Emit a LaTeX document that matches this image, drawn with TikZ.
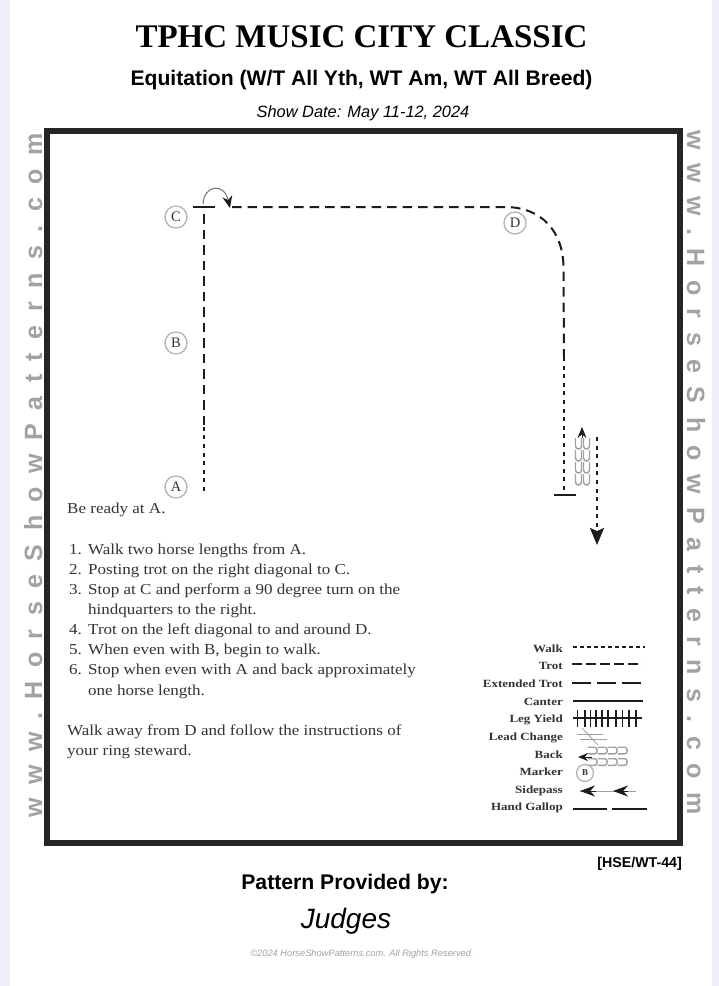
\documentclass[tikz,border=0pt]{standalone}
\usepackage{fontspec}
\setmainfont{Liberation Serif}
\setsansfont{Liberation Sans}
\newfontfamily\sidefont[LetterSpace=54]{Liberation Sans}
\newfontfamily\bodyfont[FakeStretch=1.12]{Liberation Serif}
\newfontfamily\keyfont[FakeStretch=1.18]{Liberation Serif}
\usepackage{xcolor}
\usetikzlibrary{arrows.meta,calc,positioning}
\definecolor{HSInk}{HTML}{1C1C1C}
\definecolor{HSText}{HTML}{333333}
\definecolor{HSFrame}{HTML}{252525}
\definecolor{HSSide}{HTML}{A2A2A2}
\definecolor{HSShoe}{HTML}{A0A0A0}
\definecolor{HSRing}{HTML}{B4B4B4}
\definecolor{HSEdge}{HTML}{EFEEF6}
\tikzset{
  marker/.style={circle,draw=HSRing,line width=1.3pt,fill=white,minimum size=22pt,inner sep=0pt,
    text=HSText,font=\fontsize{14.5}{14.5}\selectfont},
  bodytext/.style={anchor=base west,inner sep=0pt,text=HSText,font=\fontsize{15.2}{15.2}\bodyfont},
  legendlabel/.style={anchor=base east,inner sep=0pt,text=HSText,font=\fontsize{11}{11}\keyfont\bfseries},
  sidetext/.style={inner sep=0pt,anchor=base west,text=HSSide,font=\fontsize{25}{25}\sidefont\bfseries},
  walkline/.style={HSInk,line width=2.3pt,dash pattern=on 4pt off 4.6pt},
  trotline/.style={HSInk,line width=2pt,dash pattern=on 9.5pt off 6pt},
  stopline/.style={HSInk,line width=1.6pt},
  keyline/.style={HSInk,line width=1.4pt},
  shoe/.pic={\draw[HSShoe,line width=1.4pt] (-3,-6) -- (-3,2) .. controls (-3,6) and (3,6) .. (3,2) -- (3,-6);},
}
\begin{document}
\begin{tikzpicture}[x=1pt,y=-1pt]
  \useasboundingbox (0,0) rectangle (719,986);
  \fill[white] (0,0) rectangle (719,986);
  \fill[HSEdge] (0,0) rectangle (10,986);
  \fill[HSEdge] (712,0) rectangle (719,986);
  % heading
  \node[inner sep=0pt,text=black,font=\fontsize{33}{33}\selectfont\bfseries] (title) at (361.5,37) {TPHC MUSIC CITY CLASSIC};
  \node[inner sep=0pt,text=black,font=\fontsize{21.1}{21.1}\sffamily\bfseries] (subtitle) at (361.5,80) {Equitation (W/T All Yth, WT Am, WT All Breed)};
  \node[inner sep=0pt,text=black,font=\fontsize{16.4}{16.4}\sffamily\itshape] (showdate) at (363,113) {Show Date: May 11-12, 2024};
  % frame and side text
  \draw[HSFrame,line width=6pt] (47,131) rectangle (679.5,843);
  \node[sidetext,rotate=90] (sideleft) at (42,818) {www.HorseShowPatterns.com};
  \node[sidetext,rotate=-90] (sideright) at (687,130) {www.HorseShowPatterns.com};
  % markers
  \node[marker] (markerA) at (176,487) {A};
  \node[marker] (markerB) at (176,343) {B};
  \node[marker] (markerC) at (176,217) {C};
  \node[marker] (markerD) at (515,223) {D};
  % pattern points
  \coordinate (start) at (204,491);
  \coordinate (walkend) at (204,425);
  \coordinate (stopC) at (204,213);
  \coordinate (stopCl) at (193,207);
  \coordinate (stopCr) at (215,207);
  \coordinate (turnfrom) at (203,204);
  \coordinate (turnto) at (230,208);
  \coordinate (trotfrom) at (232,207);
  \coordinate (curvefrom) at (505,207);
  \coordinate (curveto) at (563.5,268);
  \coordinate (trotend) at (564,357);
  \coordinate (stopA) at (564,492);
  \coordinate (stopAl) at (554,495);
  \coordinate (stopAr) at (576,495);
  \coordinate (backtip) at (582,427);
  \coordinate (backfrom) at (582,438);
  \coordinate (awayfrom) at (597,437);
  \coordinate (awayto) at (597,545);
  % pattern
  \draw[walkline] (start) -- (walkend);
  \draw[trotline] (walkend) -- (stopC);
  \draw[stopline] (stopCl) -- (stopCr);
  \draw[HSText!70,line width=1pt,-{Stealth[length=12pt,width=10pt,color=HSInk,fill=HSInk]}] (turnfrom) .. controls (204,185) and (224,182) .. (turnto);
  \draw[trotline] (trotfrom) -- (curvefrom) .. controls (542,207) and (563.5,232) .. (curveto) -- (trotend);
  \draw[walkline] (trotend) -- (stopA);
  \draw[stopline] (stopAl) -- (stopAr);
  \draw[HSInk,line width=1pt,-{Stealth[length=11pt,width=9pt]}] (backfrom) -- (backtip);
  \foreach \shoey in {444,456,468,480}{
    \pic at (578.5,\shoey) {shoe};
    \pic at (586.5,\shoey) {shoe};
  }
  \draw[walkline,-{Stealth[length=17pt,width=14pt,inset=3pt]}] (awayfrom) -- (awayto);
  % instructions
  \node[bodytext] (ready) at (67,513) {Be ready at A.};
  \foreach \ypos/\num/\txt [count=\i] in {
    554/1./{Walk two horse lengths from A.},
    574/2./{Posting trot on the right diagonal to C.},
    594/3./{Stop at C and perform a 90 degree turn on the},
    614/{}/{hindquarters to the right.},
    634/4./{Trot on the left diagonal to and around D.},
    654/5./{When even with B, begin to walk.},
    674/6./{Stop when even with A and back approximately},
    695/{}/{one horse length.}}{
    \node[bodytext] (num\i) at (69,\ypos) {\num};
    \node[bodytext] (item\i) at (88,\ypos) {\txt};
  }
  \node[bodytext] (away1) at (67,735) {Walk away from D and follow the instructions of};
  \node[bodytext] (away2) at (67,755) {your ring steward.};
  % legend
  \foreach \ypos/\name/\txt in {
    652/walk/Walk, 669/trot/Trot, 687/ext/Extended Trot, 705/canter/Canter, 722/yield/Leg Yield,
    740/lead/Lead Change, 758/back/Back, 775/mark/Marker, 793/side/Sidepass, 810/gallop/Hand Gallop}{
    \node[legendlabel] (key\name) at (563,\ypos) {\txt};
  }
  \draw[keyline,dash pattern=on 3.5pt off 3.5pt] (573,647) coordinate (walkA) -- (645,647) coordinate (walkB);
  \draw[keyline,dash pattern=on 10pt off 4pt] (572,664) coordinate (trotA) -- (642,664) coordinate (trotB);
  \draw[keyline,dash pattern=on 19pt off 6pt] (572,683) coordinate (extA) -- (642,683) coordinate (extB);
  \draw[keyline] (573,701) coordinate (canterA) -- (643,701) coordinate (canterB);
  \draw[keyline] (573,718) coordinate (yieldA) -- (642,718) coordinate (yieldB);
  \foreach \tickx in {577.7,585,590.7,596,602,608,616,622.7,629,636}{
    \draw[keyline] (\tickx,710) -- (\tickx,727);
  }
  \draw[HSShoe,line width=0.8pt] (577,734) -- (603,734);
  \draw[HSShoe,line width=0.8pt] (580,739) -- (607,739);
  \draw[HSShoe,line width=0.8pt] (582,728) -- (598,745);
  \draw[HSInk,line width=1pt,-{Stealth[length=10pt,width=8pt]}] (592,757) coordinate (backA) -- (578,757) coordinate (backB);
  \foreach \shoex in {593,603,613,623}{
    \pic[rotate=90,xscale=1.1,yscale=0.85] at (\shoex,750.5) {shoe};
    \pic[rotate=90,xscale=1.1,yscale=0.85] at (\shoex,762) {shoe};
  }
  \node[marker,minimum size=17pt,font=\fontsize{9}{9}\selectfont\bfseries] (markerkey) at (585,773) {B};
  \coordinate (sideA) at (636,791);
  \coordinate (sideB) at (613,791);
  \coordinate (sideC) at (580,791);
  \draw[HSShoe,line width=0.8pt] (sideA) -- (sideC);
  \draw[HSInk,line width=1pt,-{Stealth[length=15pt,width=11pt]}] (628,791) -- (sideB);
  \draw[HSInk,line width=1pt,-{Stealth[length=15pt,width=11pt]}] (596,791) -- (sideC);
  \draw[keyline] (573,809) coordinate (gallopA) -- (607,809) coordinate (gallopB);
  \draw[keyline] (612,809) coordinate (gallopC) -- (647,809) coordinate (gallopD);
  % footer
  \node[inner sep=0pt,anchor=east,text=black,font=\fontsize{14.2}{14.2}\sffamily\bfseries] (code) at (682,864) {[HSE/WT-44]};
  \node[inner sep=0pt,text=black,font=\fontsize{21.2}{21.2}\sffamily\bfseries] (provided) at (345,884) {Pattern Provided by:};
  \node[inner sep=0pt,text=black,font=\fontsize{28}{28}\sffamily\itshape] (judges) at (346,921) {Judges};
  \node[inner sep=0pt,text=HSSide,font=\fontsize{9.3}{9.3}\sffamily\itshape] (copyright) at (362,954) {©2024 HorseShowPatterns.com. All Rights Reserved.};
\end{tikzpicture}
\end{document}
